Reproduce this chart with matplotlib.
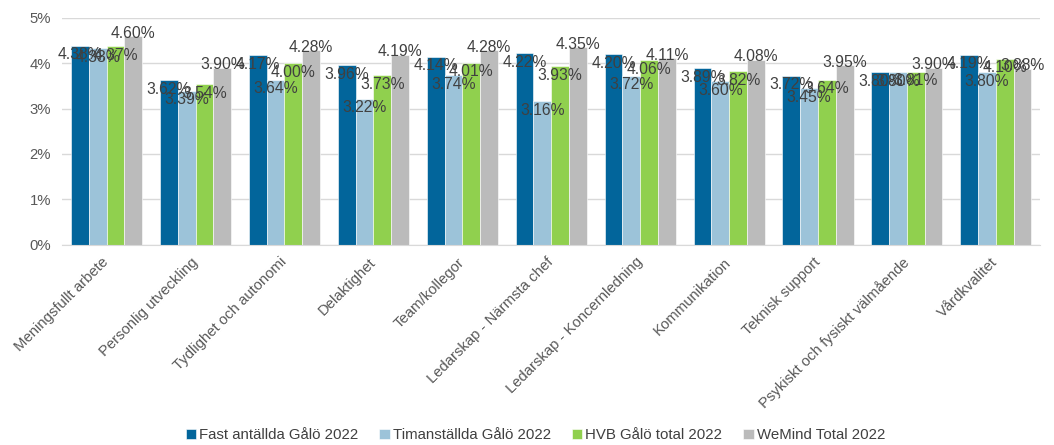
import numpy as np
import matplotlib.pyplot as plt
from matplotlib.ticker import PercentFormatter

plt.rcParams['font.family'] = ['Liberation Sans', 'DejaVu Sans']

categories = ["Meningsfullt arbete", "Personlig utveckling", "Tydlighet och autonomi",
              "Delaktighet", "Team/kollegor", "Ledarskap - Närmsta chef",
              "Ledarskap - Koncernledning", "Kommunikation", "Teknisk support",
              "Psykiskt och fysiskt välmående", "Vårdkvalitet"]

fast_anstallda = [4.38, 3.62, 4.17, 3.96, 4.14, 4.22, 4.20, 3.89, 3.72, 3.80, 4.19]
timanstallda = [4.33, 3.39, 3.64, 3.22, 3.74, 3.16, 3.72, 3.60, 3.45, 3.80, 3.80]
hvb_total = [4.37, 3.54, 4.00, 3.73, 4.01, 3.93, 4.06, 3.82, 3.64, 3.81, 4.10]
wemind_total = [4.60, 3.90, 4.28, 4.19, 4.28, 4.35, 4.11, 4.08, 3.95, 3.90, 3.88]

series = [
    ("Fast antällda Gålö 2022", fast_anstallda, "#02659B"),
    ("Timanställda Gålö 2022", timanstallda, "#9CC3D9"),
    ("HVB Gålö total 2022", hvb_total, "#90D04E"),
    ("WeMind Total 2022", wemind_total, "#BBBBBB"),
]

fig, ax = plt.subplots(figsize=(10.54, 4.45), dpi=100)
fig.subplots_adjust(left=0.059, right=0.987, top=0.96, bottom=0.45)

x = np.arange(len(categories))
width = 0.2
for i, (name, vals, color) in enumerate(series):
    pos = x + (i - 1.5) * width
    ax.bar(pos, vals, width, color=color, label=name, edgecolor="white", linewidth=0.4, zorder=2)
    # the last series gets its labels on the bar top, the rest sit a bit lower
    dy = 2 if i == 3 else -6.5
    for px, v in zip(pos, vals):
        ax.annotate(f"{v:.2f}%", (px, v), xytext=(0, dy), textcoords="offset points",
                    ha="center", va="center", fontsize=11.3, color="#404040", zorder=3,
                    annotation_clip=False)

ax.set_xlim(-0.5, len(categories) - 0.5)
ax.set_ylim(0, 5)
ax.yaxis.set_major_formatter(PercentFormatter(decimals=0))
ax.set_yticks(range(6))
ax.grid(axis="y", color="#D9D9D9", linewidth=1, zorder=0)
for s in ["top", "right", "left"]:
    ax.spines[s].set_visible(False)
ax.spines["bottom"].set_color("#D9D9D9")
ax.tick_params(axis="both", length=0, labelsize=10.7, colors="#595959")
ax.tick_params(axis="y", pad=8)

ax.set_xticks(x)
ax.set_xticklabels(categories, rotation=45, ha="right", va="center", rotation_mode="anchor")
ax.tick_params(axis="x", pad=11)

handles, labels = ax.get_legend_handles_labels()
fig.legend(handles, labels, loc="center", bbox_to_anchor=(0.508, 0.022), ncol=4, frameon=False,
           fontsize=10.8, handlelength=0.7, handleheight=0.7, handletextpad=0.2,
           columnspacing=1.4, labelcolor="#404040")

fig.savefig("out.png", dpi=100)
